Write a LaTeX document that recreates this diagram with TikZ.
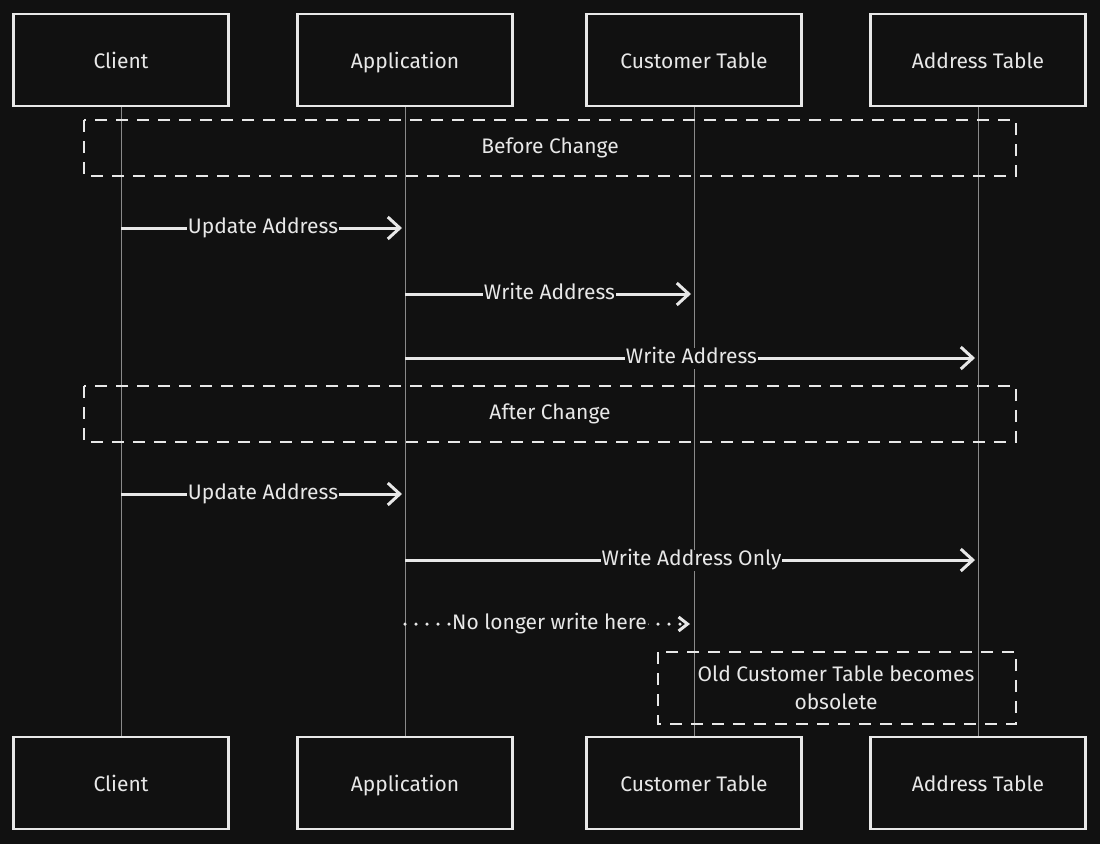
\documentclass[tikz,border=0pt]{standalone}
\usepackage{fontspec}
\setmainfont{Fira Sans}
\usetikzlibrary{arrows.meta}
\definecolor{bg}{HTML}{111111}
\definecolor{ink}{HTML}{E8E8E8}
\definecolor{life}{HTML}{8A8A8A}
\begin{document}
\begin{tikzpicture}[x=1pt,y=-1pt,
  actor/.style={draw=ink,line width=2.2pt,fill=bg,minimum width=215pt,minimum height=92pt,text=ink,text height=18pt,text depth=1pt,font=\fontsize{21}{25}\selectfont},
  lifeline/.style={draw=life,line width=1pt},
  group/.style={draw=ink,line width=2.5pt,dash pattern=on 12pt off 9pt},
  grouplabel/.style={text=ink,font=\fontsize{21}{28}\selectfont},
  msg/.style={draw=ink,line width=3pt,shorten >=3pt,-{Straight Barb[length=12pt,width=22pt,line width=3pt]}},
  dotmsg/.style={draw=ink,line width=3.5pt,line cap=round,shorten >=4pt,dash pattern=on 0pt off 11pt,-{Straight Barb[length=9pt,width=14pt,line width=3pt]}},
  msglabel/.style={fill=bg,text=ink,inner sep=1pt,text height=15pt,text depth=4pt,font=\fontsize{21}{25}\selectfont}]
\useasboundingbox[fill=bg] (0,0) rectangle (1100,844);

% participant heads and feet
\node[actor] (c1) at (121,60) {Client};
\node[actor] (a1) at (405,60) {Application};
\node[actor] (t1) at (694,60) {Customer Table};
\node[actor] (d1) at (978,60) {Address Table};
\node[actor] (c2) at (121,783) {Client};
\node[actor] (a2) at (405,783) {Application};
\node[actor] (t2) at (694,783) {Customer Table};
\node[actor] (d2) at (978,783) {Address Table};

% lifelines
\draw[lifeline] (c1.south) -- (c2.north);
\draw[lifeline] (a1.south) -- (a2.north);
\draw[lifeline] (t1.south) -- (t2.north);
\draw[lifeline] (d1.south) -- (d2.north);

% group frames
\draw[group] (84,120) rectangle (1016,176);
\node[grouplabel] (before) at (550,148) {Before Change};
\draw[group] (84,386) rectangle (1016,442);
\node[grouplabel] (after) at (550,414) {After Change};
\draw[group] (658,652) rectangle (1016,724);
\node[grouplabel,align=center] (note) at (836,688) {Old Customer Table becomes\\obsolete};

% message anchor points on the lifelines
\coordinate (m1s) at (c1.south |- 0,228);
\coordinate (m1e) at (a1.south |- 0,228);
\coordinate (m2s) at (a1.south |- 0,294);
\coordinate (m2e) at (t1.south |- 0,294);
\coordinate (m3s) at (a1.south |- 0,358);
\coordinate (m3e) at (d1.south |- 0,358);
\coordinate (m4s) at (c1.south |- 0,494);
\coordinate (m4e) at (a1.south |- 0,494);
\coordinate (m5s) at (a1.south |- 0,560);
\coordinate (m5e) at (d1.south |- 0,560);
\coordinate (m6s) at (a1.south |- 0,624);
\coordinate (m6e) at (t1.south |- 0,624);

% messages
\draw[msg] (m1s) -- (m1e) node[msglabel,midway] (l1) {Update Address};
\draw[msg] (m2s) -- (m2e) node[msglabel,midway] (l2) {Write Address};
\draw[msg] (m3s) -- (m3e) node[msglabel,midway] (l3) {Write Address};
\draw[msg] (m4s) -- (m4e) node[msglabel,midway] (l4) {Update Address};
\draw[msg] (m5s) -- (m5e) node[msglabel,midway] (l5) {Write Address Only};
\draw[dotmsg] (m6s) -- (m6e) node[msglabel,midway] (l6) {No longer write here};
\end{tikzpicture}
\end{document}
